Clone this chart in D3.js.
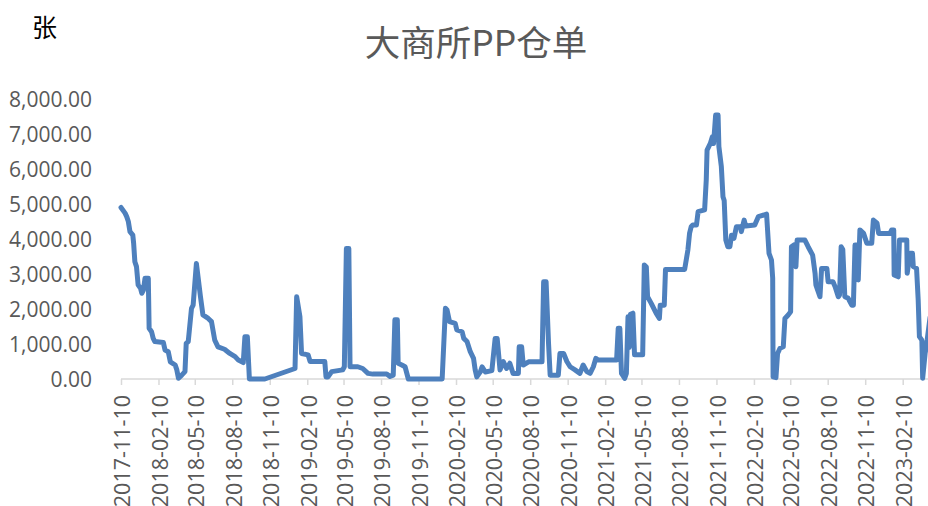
<!DOCTYPE html>
<html>
<head>
<meta charset="utf-8">
<script src="https://cdn.jsdelivr.net/npm/d3@7"></script>
<style>
  body { margin: 0; background: #fff; }
  svg { display: block; }
</style>
</head>
<body>
<script>
// 大商所PP仓单 (张)
const dates = [
  '2017-11-10','2017-11-20','2017-11-24','2017-11-28','2017-12-02','2017-12-09','2017-12-11','2017-12-14','2017-12-18','2017-12-22',
  '2017-12-28','2017-12-31','2018-01-04','2018-01-08','2018-01-16','2018-01-18','2018-01-24','2018-01-28','2018-02-01','2018-02-22',
  '2018-02-26','2018-03-06','2018-03-11','2018-03-23','2018-03-27','2018-03-31','2018-04-08','2018-04-16','2018-04-19','2018-04-24',
  '2018-05-02','2018-05-06','2018-05-14','2018-05-18','2018-05-24','2018-05-30','2018-06-12','2018-06-20','2018-06-28','2018-07-06',
  '2018-07-22','2018-08-04','2018-08-17','2018-08-25','2018-09-06','2018-09-10','2018-09-16','2018-09-21','2018-10-29','2019-01-11',
  '2019-01-15','2019-01-23','2019-01-27','2019-02-12','2019-02-17','2019-03-25','2019-03-28','2019-04-02','2019-04-11','2019-05-08',
  '2019-05-12','2019-05-17','2019-05-23','2019-05-26','2019-06-14','2019-06-26','2019-07-09','2019-07-21','2019-08-24','2019-09-01',
  '2019-09-09','2019-09-13','2019-09-19','2019-09-21','2019-09-30','2019-10-08','2019-10-16','2020-01-07','2020-01-15','2020-01-19',
  '2020-01-25','2020-02-08','2020-02-12','2020-02-25','2020-02-29','2020-03-08','2020-03-16','2020-03-24','2020-03-28','2020-04-01',
  '2020-04-10','2020-04-14','2020-04-22','2020-05-08','2020-05-16','2020-05-21','2020-05-28','2020-06-05','2020-06-13','2020-06-21',
  '2020-06-29','2020-07-12','2020-07-14','2020-07-20','2020-07-24','2020-08-06','2020-09-08','2020-09-12','2020-09-18','2020-09-24',
  '2020-09-28','2020-10-18','2020-10-22','2020-10-31','2020-11-08','2020-11-16','2020-11-28','2020-12-10','2020-12-18','2020-12-27',
  '2021-01-04','2021-01-12','2021-01-18','2021-01-24','2021-03-10','2021-03-14','2021-03-18','2021-03-22','2021-03-30','2021-04-03',
  '2021-04-07','2021-04-10','2021-04-13','2021-04-19','2021-04-23','2021-05-13','2021-05-17','2021-05-22','2021-05-25','2021-06-03',
  '2021-06-15','2021-06-23','2021-06-25','2021-07-05','2021-07-08','2021-08-24','2021-09-01','2021-09-05','2021-09-09','2021-09-13',
  '2021-09-22','2021-09-26','2021-10-12','2021-10-16','2021-10-18','2021-10-26','2021-10-31','2021-11-03','2021-11-08','2021-11-14',
  '2021-11-16','2021-11-22','2021-11-26','2021-11-29','2021-12-03','2021-12-08','2021-12-13','2021-12-17','2021-12-23','2021-12-29',
  '2022-01-08','2022-01-10','2022-01-17','2022-01-21','2022-02-12','2022-02-21','2022-03-13','2022-03-19','2022-03-25','2022-03-28',
  '2022-03-29','2022-04-05','2022-04-09','2022-04-15','2022-04-23','2022-04-27','2022-05-05','2022-05-11','2022-05-13','2022-05-19',
  '2022-05-24','2022-05-27','2022-06-15','2022-06-23','2022-07-04','2022-07-10','2022-07-12','2022-07-22','2022-07-26','2022-08-08',
  '2022-08-11','2022-08-23','2022-08-28','2022-09-05','2022-09-08','2022-09-12','2022-09-16','2022-09-21','2022-09-29','2022-10-08',
  '2022-10-12','2022-10-16','2022-10-22','2022-10-24','2022-10-28','2022-11-06','2022-11-14','2022-11-26','2022-11-30','2022-12-09',
  '2022-12-13','2023-01-10','2023-01-14','2023-01-19','2023-01-20','2023-01-30','2023-02-02','2023-02-20','2023-02-21','2023-02-28',
  '2023-03-06','2023-03-08','2023-03-16','2023-03-20','2023-03-23','2023-03-29','2023-03-31','2023-04-06','2023-04-11','2023-04-18'
]
const receipts = [
  4900,4740,4640,4500,4210,4110,3880,3350,3210,2690,
  2590,2450,2540,2880,2880,1450,1350,1160,1070,1040,
  830,780,490,400,260,20,110,210,1020,1070,
  2020,2110,3300,2920,2350,1830,1730,1640,1110,920,
  850,730,640,540,470,1210,1210,0,0,300,
  2350,1780,730,690,500,500,60,60,210,260,
  350,3730,3730,350,350,300,160,140,140,70,
  110,1690,1690,450,400,350,0,0,2020,1970,
  1640,1590,1400,1350,1160,1070,780,590,260,60,
  210,350,200,240,1160,1160,260,500,300,450,
  160,160,920,920,400,490,490,2780,2780,1020,
  110,110,730,730,500,350,260,160,400,210,
  160,350,590,540,540,1450,1450,160,20,160,
  1780,900,1850,1880,690,690,3260,3200,2350,2160,
  1880,1730,2110,2110,3130,3130,3690,4160,4350,4400,
  4400,4780,4830,5690,6540,6730,6920,6730,7540,7540,
  6640,6070,5210,5100,3970,3780,3780,4110,4020,4350,
  4350,4210,4540,4370,4400,4640,4710,3590,3400,2880,
  60,40,730,880,920,1730,1830,1920,3780,3830,
  3210,3970,3970,3780,3540,3020,2690,2350,3160,3160,
  2780,2780,2640,2350,2400,3780,3700,2350,2310,2110,
  2110,3830,3830,2830,4260,4160,3880,3880,4540,4450,
  4160,4160,4260,4260,2970,2920,3970,3970,3020,3590,
  3590,3210,3160,2260,1210,1110,20,730,1110,1750
]
const tickDates = [
  '2017-11-10','2018-02-10','2018-05-10','2018-08-10','2018-11-10','2019-02-10',
  '2019-05-10','2019-08-10','2019-11-10','2020-02-10','2020-05-10','2020-08-10',
  '2020-11-10','2021-02-10','2021-05-10','2021-08-10','2021-11-10','2022-02-10',
  '2022-05-10','2022-08-10','2022-11-10','2023-02-10'
]
const yTicks = [0,1000,2000,3000,4000,5000,6000,7000,8000]

const W = 928, H = 506
const parse = d3.timeParse('%Y-%m-%d')
const fmt = d3.timeFormat('%Y-%m-%d')
const points = dates.map((d, i) => ({ date: parse(d), value: receipts[i] }))

const svg = d3.select('body').append('svg')
  .attr('width', W)
  .attr('height', H)

const x = d3.scaleTime()
  .domain([parse('2017-11-10'), parse('2023-02-10')])
  .range([121, 902.7])
const y = d3.scaleLinear()
  .domain([0, 8000])
  .range([379, 99])

// title + unit
svg.append('text')
  .attr('x', 476).attr('y', 56)
  .attr('text-anchor', 'middle')
  .attr('font-family', '"Noto Sans CJK SC", sans-serif')
  .attr('font-size', 35.5)
  .attr('fill', '#595959')
  .text('大商所PP仓单')
svg.append('text')
  .attr('x', 32).attr('y', 37)
  .attr('font-family', '"Noto Sans CJK SC", sans-serif')
  .attr('font-size', 25)
  .attr('fill', '#000')
  .text('张')

// y labels, no axis line
svg.append('g')
  .selectAll('text')
  .data(yTicks)
  .join('text')
  .attr('x', 92)
  .attr('y', d => y(d))
  .attr('dy', '0.36em')
  .attr('text-anchor', 'end')
  .attr('font-family', '"Open Sans", sans-serif')
  .attr('font-size', 21)
  .attr('fill', '#595959')
  .text(d => d3.format(',.2f')(d))

// x axis
let xAxis = d3.axisBottom(x)
  .tickValues(tickDates.map(parse))
  .tickFormat(fmt)
  .tickSize(6)
  .tickSizeOuter(0)
let gx = svg.append('g')
  .attr('transform', `translate(0,${y(0)})`)
  .call(xAxis)
gx.select('.domain')
  .attr('stroke', '#d9d9d9')
  .attr('stroke-width', 1.5)
  .attr('d', `M${x.range()[0]},0H${W}`)
gx.selectAll('.tick line')
  .attr('stroke', '#d9d9d9')
  .attr('stroke-width', 1.5)
gx.selectAll('.tick text')
  .attr('font-family', '"Open Sans", sans-serif')
  .attr('font-size', 21.5)
  .attr('fill', '#595959')
  .attr('transform', 'rotate(-90)')
  .attr('text-anchor', 'end')
  .attr('x', -16)
  .attr('y', 1)
  .attr('dy', '0.36em')

// series line
let line = d3.line()
  .x(d => x(d.date))
  .y(d => y(d.value))
svg.append('path')
  .datum(points)
  .attr('fill', 'none')
  .attr('stroke', '#4e80bd')
  .attr('stroke-width', 5)
  .attr('stroke-linejoin', 'round')
  .attr('stroke-linecap', 'round')
  .attr('d', line)
</script>
</body>
</html>
